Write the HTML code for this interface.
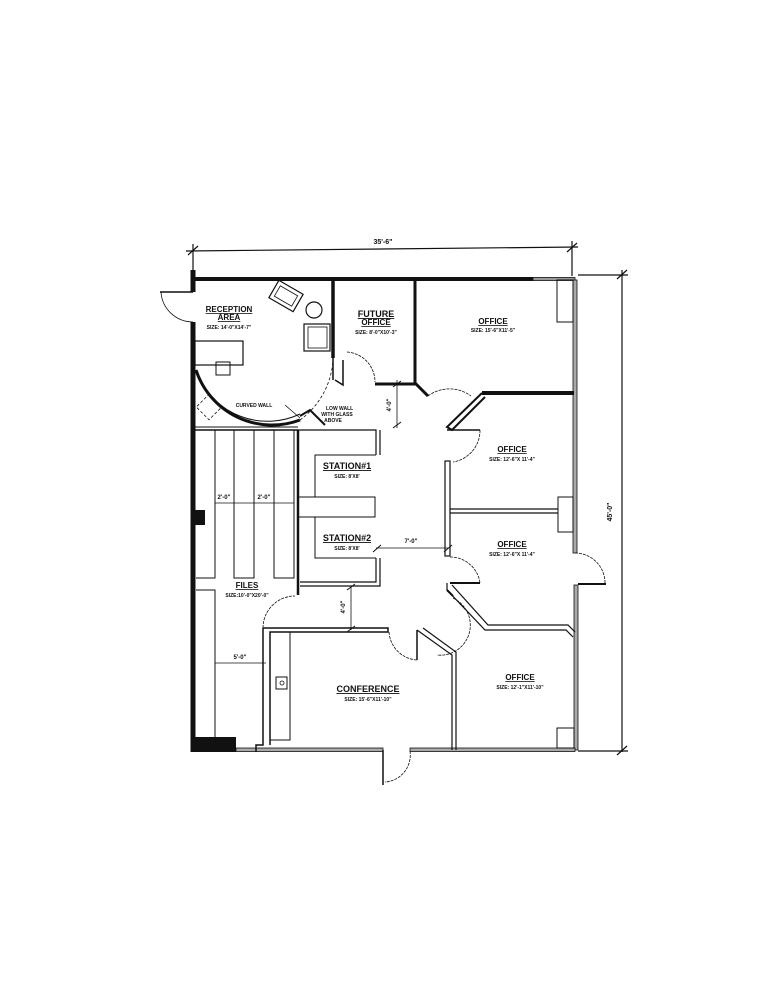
<!DOCTYPE html>
<html><head><style>
html,body{margin:0;padding:0;background:#fff;}
svg{display:block;}
text{font-family:"Liberation Sans",sans-serif;font-weight:bold;fill:#111;text-anchor:middle;}
.l{font-size:8px;text-decoration:underline;}
.s{font-size:5px;}
</style></head><body>
<svg width="778" height="1008" viewBox="0 0 778 1008" xmlns="http://www.w3.org/2000/svg">
<g stroke="#111" fill="none" stroke-width="1.2">
<!-- top dimension -->
<line x1="186" y1="251" x2="578" y2="247"/>
<line x1="193" y1="244" x2="193" y2="270"/>
<line x1="572" y1="241" x2="572" y2="276"/>
<line x1="188" y1="255" x2="198" y2="246"/><line x1="567" y1="252" x2="577" y2="243"/>
<!-- right dimension -->
<line x1="578" y1="275" x2="628" y2="275"/>
<line x1="622" y1="270" x2="622" y2="752"/>
<line x1="578" y1="751" x2="628" y2="751"/>
<line x1="617" y1="279" x2="627" y2="270"/><line x1="617" y1="755" x2="627" y2="746"/>
</g>
<text x="383" y="244" class="s" style="font-size:7px">35'-6"</text>
<text x="612" y="512" class="s" style="font-size:7px" transform="rotate(-90 612 512)">45'-0"</text>

<g stroke="#111" fill="none">
<!-- outer top wall -->
<line x1="193" y1="279" x2="533" y2="279" stroke-width="4"/>
<rect x="533" y="277.5" width="42" height="3" stroke-width="0.8" fill="#999"/>
<!-- left wall -->
<line x1="193" y1="270" x2="193" y2="292" stroke-width="5"/>
<line x1="160" y1="292" x2="193" y2="292" stroke-width="1.5"/>
<path d="M161,292 A32,32 0 0 0 193,322" stroke-width="0.8"/>
<line x1="193" y1="322" x2="193" y2="752" stroke-width="5"/>
<rect x="193" y="510" width="12" height="15" fill="#111" stroke="none"/>
<rect x="193" y="737" width="43" height="15" fill="#111" stroke="none"/>
<!-- right wall (glass) -->
<rect x="573" y="280" width="4" height="273" fill="#aaa" stroke-width="0.8"/>
<rect x="574" y="585" width="4" height="165" fill="#aaa" stroke-width="0.8"/>
<path d="M575,553 A30,30 0 0 1 605,583" stroke-width="0.8" stroke-dasharray="3,1"/>
<line x1="578" y1="584" x2="606" y2="584" stroke-width="2"/>
<!-- bottom wall -->
<rect x="236" y="748" width="147" height="3.5" fill="#aaa" stroke-width="0.8"/>
<rect x="410" y="748" width="165" height="3.5" fill="#aaa" stroke-width="0.8"/>
<line x1="383" y1="750" x2="383" y2="785" stroke-width="1.5"/>
<path d="M410,751 A27,27 0 0 1 385,782" stroke-width="0.8" stroke-dasharray="3,1"/>

<!-- reception -->
<line x1="333" y1="279" x2="333" y2="358" stroke-width="3.5"/>
<path d="M196,370 A80,80 0 0 0 300,420" stroke-width="3"/>
<path d="M198,376 A76,76 0 0 0 300,414" stroke-width="1"/>
<path d="M300,420 A80,80 0 0 0 333,360" stroke-width="0.8" stroke-dasharray="3,2"/>
<path d="M300,416 L310,410 L325,425" stroke-width="2"/>
<line x1="333" y1="358" x2="333" y2="380" stroke-width="1.5"/>
<path d="M335,380 L343,385 L343,360" stroke-width="1.5"/>
<rect x="195" y="341" width="48" height="24" stroke-width="1.2"/>
<rect x="216" y="362" width="14" height="13" stroke-width="1"/>
<rect x="200" y="398" width="18" height="18" stroke-width="0.8" stroke-dasharray="3,2" transform="rotate(45 209 407)"/>
<rect x="272" y="286" width="28" height="20" stroke-width="1.2" transform="rotate(30 286 296)"/>
<rect x="276" y="290" width="20" height="12" stroke-width="0.8" transform="rotate(30 286 296)"/>
<circle cx="314" cy="310" r="8" stroke-width="1.2"/>
<rect x="304" y="324" width="26" height="27" stroke-width="1.2"/>
<rect x="308" y="327" width="19" height="21" stroke-width="0.8"/>
<line x1="285" y1="405" x2="300" y2="418" stroke-width="0.8"/>

<!-- future office -->
<line x1="415" y1="279" x2="415" y2="384" stroke-width="3"/>
<path d="M375,384 L416,384 L428,396" stroke-width="3"/>
<path d="M347,352 A30,30 0 0 1 375,382" stroke-width="0.8" stroke-dasharray="3,1"/>
<!-- 4'-0 upper dim -->
<line x1="397" y1="380" x2="397" y2="428" stroke-width="0.8"/>
<line x1="393" y1="387" x2="401" y2="381"/>
<line x1="393" y1="428" x2="401" y2="422"/>

<!-- office top right -->
<rect x="557" y="280" width="16" height="42" stroke-width="1"/>
<line x1="482" y1="393" x2="574" y2="393" stroke-width="4"/>
<path d="M482,393 L447,427 L452,430 L485,397" stroke-width="2"/>
<line x1="447" y1="430" x2="480" y2="430" stroke-width="1.5"/>
<path d="M428,396 A36,36 0 0 1 471,396" stroke-width="0.8" stroke-dasharray="3,1"/>
<path d="M480,430 A32,32 0 0 1 453,462" stroke-width="0.8" stroke-dasharray="3,1"/>
<!-- office 2/3 -->
<rect x="445" y="461" width="5" height="95" stroke-width="1.2"/>
<line x1="450" y1="509" x2="558" y2="509" stroke-width="1.2"/>
<line x1="450" y1="513" x2="558" y2="513" stroke-width="1.2"/>
<rect x="558" y="497" width="15" height="35" stroke-width="1"/>
<path d="M450,557 A30,30 0 0 1 480,583" stroke-width="0.8" stroke-dasharray="3,1"/>
<path d="M450,583 L480,583" stroke-width="2"/>
<path d="M447,583 L447,590 L485,630 L566,630 L573,637" stroke-width="1.2"/>
<path d="M452,585 L488,625 L568,625 L575,632" stroke-width="1.2"/>
<path d="M447,590 L453,596" stroke-width="2"/>
<path d="M453,598 A30,30 0 0 1 437,655" stroke-width="0.8" stroke-dasharray="3,1"/>
<!-- office 4 -->
<path d="M417,630 L452,655 L452,750" stroke-width="1.2"/>
<path d="M423,628 L456,652 L456,750" stroke-width="1.2"/>
<line x1="417" y1="630" x2="417" y2="660" stroke-width="1.5"/>
<rect x="557" y="728" width="17" height="20" stroke-width="1"/>

<!-- stations -->
<path d="M298,430 L376,430 L376,455 M380,430 L380,455" stroke-width="1.2"/>
<line x1="298" y1="430" x2="298" y2="595" stroke-width="2.5"/>
<path d="M376,455 L315,455 L315,497" stroke-width="1"/>
<rect x="298" y="497" width="77" height="20" stroke-width="1"/>
<path d="M315,517 L315,558 L376,558" stroke-width="1"/>
<path d="M376,558 L376,582 L300,582 M380,558 L380,586 L300,586" stroke-width="1.2"/>
<!-- 7'-0 dim -->
<line x1="376" y1="548" x2="448" y2="548" stroke-width="0.8"/>
<line x1="373" y1="552" x2="381" y2="545"/><line x1="444" y1="552" x2="452" y2="545"/>
<!-- 4'-0 lower dim -->
<line x1="351" y1="586" x2="351" y2="630" stroke-width="0.8"/>
<line x1="347" y1="590" x2="355" y2="584"/><line x1="347" y1="632" x2="355" y2="626"/>

<!-- conference -->
<path d="M263,628 L388,628 L388,632 L270,632 L270,745" stroke-width="1.5"/>
<path d="M263,628 L263,745 L256,745 L256,752" stroke-width="1.5"/>
<rect x="270" y="632" width="20" height="108" stroke-width="1"/>
<rect x="276" y="677" width="11" height="12" stroke-width="1"/>
<circle cx="282" cy="683" r="2" stroke-width="0.8"/>
<path d="M389,632 A30,30 0 0 0 417,660" stroke-width="0.8" stroke-dasharray="3,1"/>
<path d="M263,628 A32,32 0 0 1 295,596" stroke-width="0.8" stroke-dasharray="3,1"/>

<!-- files -->
<line x1="195" y1="430" x2="298" y2="430" stroke-width="1.5"/>
<line x1="195" y1="427" x2="298" y2="427" stroke-width="1"/>
<path d="M215,430 L215,578 L196,578" stroke-width="1"/>
<path d="M234,430 L234,578 L254,578 L254,430" stroke-width="1"/>
<path d="M274,430 L274,578 L294,578 L294,430" stroke-width="1"/>
<path d="M196,590 L215,590 L215,737" stroke-width="1"/>
<line x1="215" y1="503" x2="234" y2="503" stroke-width="0.8"/>
<line x1="254" y1="503" x2="274" y2="503" stroke-width="0.8"/>
<line x1="234" y1="503" x2="254" y2="503" stroke-width="0.8"/>
<line x1="274" y1="503" x2="294" y2="503" stroke-width="0.8"/>
<line x1="215" y1="663" x2="266" y2="663" stroke-width="0.8"/>
</g>

<!-- labels -->
<text x="229" y="312" class="l">RECEPTION</text>
<text x="229" y="320" class="l">AREA</text>
<text x="229" y="329" class="s">SIZE: 14'-0"X14'-7"</text>
<text x="254" y="407" class="s">CURVED WALL</text>
<text x="336" y="410" class="s" style="text-anchor:start;font-size:5px" transform="translate(-10 0)">LOW WALL</text>
<text x="337" y="416" class="s" style="font-size:5px">WITH GLASS</text>
<text x="333" y="422" class="s" style="font-size:5px">ABOVE</text>
<text x="376" y="317" class="l" style="font-size:9px">FUTURE</text>
<text x="376" y="325" class="l">OFFICE</text>
<text x="376" y="334" class="s">SIZE: 8'-0"X10'-3"</text>
<text x="493" y="324" class="l">OFFICE</text>
<text x="493" y="332" class="s">SIZE: 15'-6"X11'-5"</text>
<text x="512" y="452" class="l">OFFICE</text>
<text x="512" y="461" class="s">SIZE: 12'-6"X 11'-4"</text>
<text x="512" y="547" class="l">OFFICE</text>
<text x="512" y="556" class="s">SIZE: 12'-6"X 11'-4"</text>
<text x="520" y="680" class="l">OFFICE</text>
<text x="520" y="689" class="s">SIZE: 12'-1"X11'-10"</text>
<text x="347" y="469" class="l" style="font-size:9px">STATION#1</text>
<text x="347" y="478" class="s">SIZE: 8'X8'</text>
<text x="347" y="541" class="l" style="font-size:9px">STATION#2</text>
<text x="347" y="550" class="s">SIZE: 8'X8'</text>
<text x="411" y="543" class="s" style="font-size:6px">7'-0"</text>
<text x="368" y="692" class="l" style="font-size:9px">CONFERENCE</text>
<text x="368" y="701" class="s">SIZE: 15'-6"X11'-10"</text>
<text x="247" y="588" class="l">FILES</text>
<text x="247" y="597" class="s">SIZE:10'-0"X20'-0"</text>
<text x="224" y="499" class="s" style="font-size:6px">2'-0"</text>
<text x="264" y="499" class="s" style="font-size:6px">2'-0"</text>
<text x="240" y="659" class="s" style="font-size:6px">5'-0"</text>
<text x="345" y="607" class="s" style="font-size:6px" transform="rotate(-90 345 607)">4'-0"</text>
<text x="391" y="405" class="s" style="font-size:6px" transform="rotate(-90 391 405)">4'-0"</text>
</svg>
</body></html>
